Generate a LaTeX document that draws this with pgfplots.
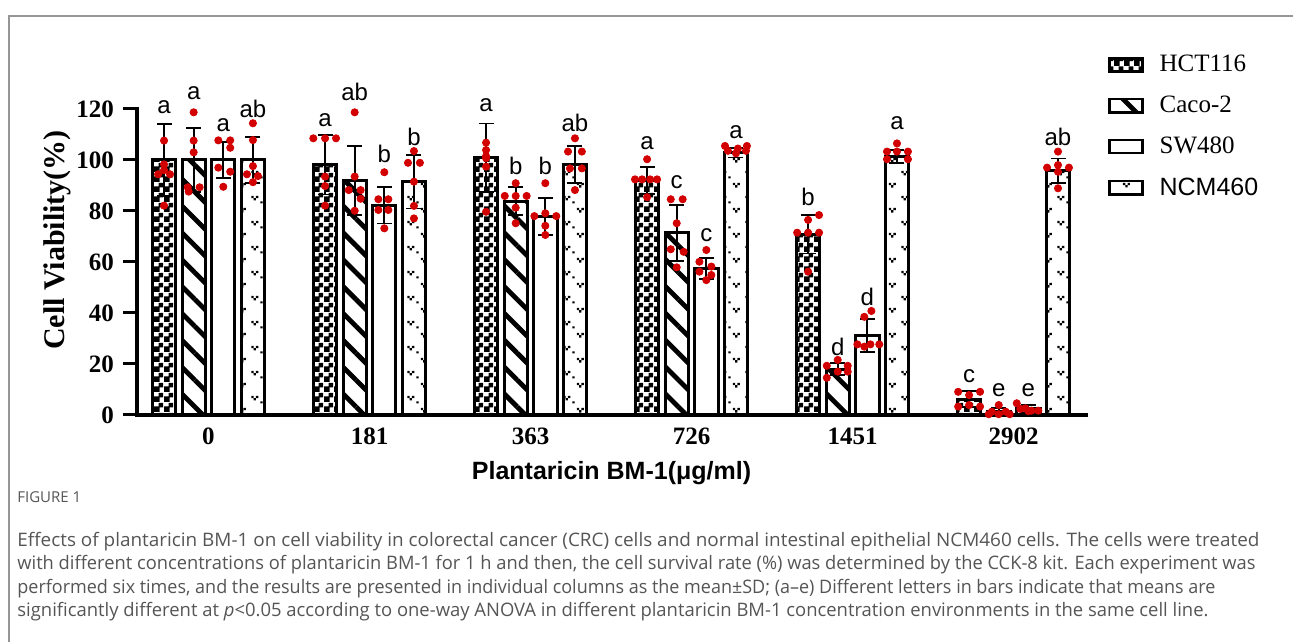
\documentclass[border=0pt]{standalone}
\usepackage{pgfplots}
\usepackage{graphicx}
\pgfplotsset{compat=1.18}
\usetikzlibrary{patterns,patterns.meta}
\usepackage{fontspec}
\setmainfont{Liberation Serif}
\newfontfamily\arial{Liberation Sans}
\newfontfamily\capfont{Open Sans}
\definecolor{dotred}{RGB}{210,0,0}
\definecolor{capgray}{RGB}{85,85,85}
\definecolor{framegray}{RGB}{150,150,150}
\tikzset{letter/.style={font=\arial\fontsize{12}{14}\selectfont, inner sep=0pt}}

\pgfdeclarepattern{
  name=mychecker,
  bottom left={\pgfpoint{0pt}{0pt}},
  top right={\pgfpoint{4.8pt}{4.8pt}},
  tile size={\pgfpoint{4.8pt}{4.8pt}},
  code={
    \pgfpathrectangle{\pgfpoint{0pt}{0pt}}{\pgfpoint{2.9pt}{2.9pt}}
    \pgfpathrectangle{\pgfpoint{2.4pt}{2.4pt}}{\pgfpoint{2.4pt}{2.4pt}}
    \pgfusepath{fill}
  }
}
\pgfdeclarepattern{
  name=myvdots,
  bottom left={\pgfpoint{0pt}{0pt}},
  top right={\pgfpoint{13pt}{12.5pt}},
  tile size={\pgfpoint{13pt}{12.5pt}},
  code={
    \pgfpathrectangle{\pgfpoint{2.5pt}{3.5pt}}{\pgfpoint{1.2pt}{1.2pt}}
    \pgfpathrectangle{\pgfpoint{4.9pt}{3.5pt}}{\pgfpoint{1.2pt}{1.2pt}}
    \pgfpathrectangle{\pgfpoint{3.7pt}{2.3pt}}{\pgfpoint{1.2pt}{1.2pt}}
    \pgfpathrectangle{\pgfpoint{9pt}{9.75pt}}{\pgfpoint{1.2pt}{1.2pt}}
    \pgfpathrectangle{\pgfpoint{11.4pt}{9.75pt}}{\pgfpoint{1.2pt}{1.2pt}}
    \pgfpathrectangle{\pgfpoint{10.2pt}{8.55pt}}{\pgfpoint{1.2pt}{1.2pt}}
    \pgfpathrectangle{\pgfpoint{0.2pt}{7pt}}{\pgfpoint{1.1pt}{1.1pt}}
    \pgfusepath{fill}
  }
}

\begin{document}
\begin{tikzpicture}
\path[use as bounding box] (0,0) rectangle (646.5pt,321pt);
\draw[framegray, line width=0.8pt] (4.5pt,0) -- (4.5pt,313pt) -- (646.5pt,313pt);

\begin{axis}[
  at={(68.5pt,113.5pt)}, anchor=south west,
  scale only axis, width=474.5pt, height=153pt,
  xmin=-0.444, xmax=5.45, ymin=0, ymax=120,
  axis x line*=bottom, axis y line*=left,
  axis line style={line width=2pt, -, line cap=rect},
  ytick={0,20,...,120},
  xtick={0,...,5}, xticklabels={0,181,363,726,1451,2902},
  x tick style={draw=none},
  y tick style={line width=1.5pt, black},
  tick align=outside, major tick length=7pt,
  /pgf/number format/assume math mode=true,
  ticklabel style={font=\fontsize{12.5}{14}\selectfont\bfseries},
  yticklabel style={xshift=-1pt},
  xticklabel style={yshift=4pt},
  clip=false,
  xlabel={Plantaricin BM-1(μg/ml)},
  xlabel style={font=\arial\bfseries\fontsize{12.5}{15}\selectfont, at={(axis description cs:0.5,-0.19)}, anchor=center},
  ylabel={Cell Viability(\%)},
  ylabel style={font=\bfseries\fontsize{15}{17}\selectfont, at={(axis description cs:-0.084,0.572)}, anchor=center, rotate=0},
  legend style={at={(1.023,1.19)}, anchor=north west, draw=none, fill=none, inner sep=0pt,
    row sep=6.6pt, font=\fontsize{12.5}{15}\selectfont, cells={anchor=west},
    /tikz/every odd column/.append style={column sep=6pt}},
  legend image code/.code={\draw[#1, line width=1.2pt] (0pt,-3.3pt) rectangle (16.5pt,3.3pt);},
  error bars/y dir=both, error bars/y explicit,
  error bars/error bar style={line width=0.9pt, black, solid},
  error bars/error mark options={rotate=90, mark size=3.75pt, line width=0.9pt, black},
]
\addplot[ybar, bar width=0.145, bar shift=0pt, draw=black, line width=1.5pt, pattern=mychecker, pattern color=black]
 coordinates {(-0.276,100)+-(0,14) (0.724,98.2)+-(0,11.7) (1.724,100.8)+-(0,13.5) (2.724,91.9)+-(0,5.2) (3.724,70.9)+-(0,7.6) (4.724,6.2)+-(0,3.1)};
\addplot[ybar, bar width=0.145, bar shift=0pt, draw=black, line width=1.5pt, pattern={Lines[angle=-45,distance=9.5pt,line width=2.4pt]}, pattern color=black]
 coordinates {(-0.092,100)+-(0,12.5) (0.908,91.9)+-(0,13.5) (1.908,83.9)+-(0,5.4) (2.908,71.4)+-(0,11) (3.908,18)+-(0,2.4) (4.908,1.3)+-(0,1.3)};
\addplot[ybar, bar width=0.145, bar shift=0pt, draw=black, line width=1.5pt, fill=white]
 coordinates {(0.092,100)+-(0,7) (1.092,82.3)+-(0,7.2) (2.092,77.8)+-(0,7.2) (3.092,57.5)+-(0,4.2) (4.092,31.3)+-(0,6.5) (5.092,2.4)+-(0,1.5)};
\addplot[ybar, bar width=0.145, bar shift=0pt, draw=black, line width=1.5pt, pattern=myvdots, pattern color=black]
 coordinates {(0.276,100)+-(0,9) (1.276,91.5)+-(0,10.5) (2.276,98.3)+-(0,7.3) (3.276,102.8)+-(0,1.8) (4.276,101.4)+-(0,2.5) (5.276,95.8)+-(0,4.8)};
\legend{HCT116, Caco-2, SW480, {\arial NCM460}}

% individual replicate points
\addplot[only marks, mark=*, mark size=1.8pt, color=dotred, forget plot, error bars/y dir=none] coordinates {
 (-0.276,107.6) (-0.276,98.3) (-0.313,94.4) (-0.239,94.4) (-0.276,82.1) (-0.276,96)
 (0.651,108.5) (0.724,108.5) (0.792,108.5) (0.724,93.5) (0.724,89.8) (0.724,82.1)
 (1.724,106.8) (1.724,103.9) (1.724,100.7) (1.724,97.4) (1.724,79.7) (1.724,101.5)
 (2.724,100.3) (2.649,92.4) (2.693,92.4) (2.743,92.4) (2.786,92.4) (2.724,85.4)
 (3.792,78.4) (3.724,76.5) (3.656,71.5) (3.724,71.5) (3.792,71.5) (3.724,56.2)
 (4.656,9.1) (4.792,9.1) (4.724,7.8) (4.724,3.9) (4.656,3.3) (4.792,3.3)
 (-0.092,118.7) (-0.092,107.6) (-0.092,103) (-0.129,89.3) (-0.055,89.3) (-0.123,87.6)
 (0.908,118.7) (0.908,93.5) (0.871,88.2) (0.945,88.2) (0.945,84.8) (0.908,80.1)
 (1.908,90.9) (1.840,85.9) (1.908,85.9) (1.976,85.9) (1.908,81.3) (1.908,75.2)
 (2.871,84.6) (2.945,84.6) (2.908,75.2) (2.871,65) (2.951,64) (2.908,57.9)
 (3.908,21.6) (3.840,19.3) (3.970,19.3) (3.908,17) (3.970,17) (3.840,14.6)
 (4.908,3.9) (4.865,1.3) (4.951,1.3) (4.846,0.3) (4.908,0.3) (4.976,0.3)
 (0.061,107.7) (0.135,107.7) (0.135,104.8) (0.061,97) (0.135,95.4) (0.092,89.5)
 (1.092,95.2) (1.055,84.6) (1.117,84.6) (1.055,80.4) (1.117,80.4) (1.092,73.2)
 (2.092,90.9) (2.024,78) (2.160,78) (2.092,79.1) (2.092,74.2) (2.092,70.6)
 (3.092,64.7) (3.049,60.1) (3.123,58.2) (3.049,56.2) (3.123,54.9) (3.092,52.9)
 (4.117,40.8) (4.073,38.5) (4.030,27.7) (4.111,27.7) (4.166,27.7) (4.073,26.8)
 (5.020,4.6) (5.073,2.6) (5.111,1.7) (5.154,1.7) (5.042,2.4) (5.092,1.5)
 (0.276,114.4) (0.276,107.8) (0.239,94.4) (0.307,93.7) (0.276,91.3) (0.276,97.6)
 (1.276,103.5) (1.239,98.9) (1.313,98.9) (1.276,91.5) (1.276,82) (1.276,77.1)
 (2.276,108.5) (2.233,103.3) (2.319,103.3) (2.245,96.7) (2.319,96.7) (2.276,88.2)
 (3.208,105.5) (3.344,105.5) (3.288,104.5) (3.226,103.6) (3.338,103.6) (3.276,102.6)
 (4.276,106.5) (4.214,103.3) (4.276,103.3) (4.344,103.3) (4.214,100.3) (4.344,100.3)
 (5.276,103.3) (5.276,98) (5.208,97) (5.344,97) (5.276,95.4) (5.276,88.9)
};

% significance letters
\node[letter] at (axis cs:-0.276,120.9) {a};
\node[letter] at (axis cs:-0.092,126.3) {a};
\node[letter] at (axis cs:0.092,113.7) {a};
\node[letter] at (axis cs:0.276,120) {ab};
\node[letter] at (axis cs:0.724,115.7) {a};
\node[letter] at (axis cs:0.908,126.5) {ab};
\node[letter] at (axis cs:1.092,102.4) {b};
\node[letter] at (axis cs:1.276,109.1) {b};
\node[letter] at (axis cs:1.724,121.6) {a};
\node[letter] at (axis cs:1.908,97.6) {b};
\node[letter] at (axis cs:2.092,97.6) {b};
\node[letter] at (axis cs:2.276,114.4) {ab};
\node[letter] at (axis cs:2.724,106.5) {a};
\node[letter] at (axis cs:2.908,91.5) {c};
\node[letter] at (axis cs:3.092,70.6) {c};
\node[letter] at (axis cs:3.276,111.1) {a};
\node[letter] at (axis cs:3.724,85.6) {b};
\node[letter] at (axis cs:3.908,26.8) {d};
\node[letter] at (axis cs:4.092,46.4) {d};
\node[letter] at (axis cs:4.276,114.4) {a};
\node[letter] at (axis cs:4.724,15.3) {c};
\node[letter] at (axis cs:4.908,9.8) {e};
\node[letter] at (axis cs:5.092,9.8) {e};
\node[letter] at (axis cs:5.276,109.1) {ab};
\end{axis}

\node[anchor=base west, inner sep=0pt, text=capgray, font=\capfont\fontsize{7.5}{9}\selectfont] at (8.5pt,70pt) {FIGURE 1};
\begin{scope}[every node/.style={anchor=base west, inner sep=0pt, text=capgray, font=\capfont\fontsize{9.3}{11}\selectfont}]
\node at (8.5pt,48pt) {\resizebox{621pt}{\height}{Effects of plantaricin BM-1 on cell viability in colorectal cancer (CRC) cells and normal intestinal epithelial NCM460 cells. The cells were treated}};
\node at (8.5pt,36.5pt) {\resizebox{619pt}{\height}{with different concentrations of plantaricin BM-1 for 1 h and then, the cell survival rate (\%) was determined by the CCK-8 kit. Each experiment was}};
\node at (8.5pt,24.5pt) {\resizebox{599pt}{\height}{performed six times, and the results are presented in individual columns as the mean±SD; (a–e) Different letters in bars indicate that means are}};
\node at (8.5pt,13pt) {\resizebox{595.5pt}{\height}{significantly different at \textit{p}<0.05 according to one-way ANOVA in different plantaricin BM-1 concentration environments in the same cell line.}};
\end{scope}
\end{tikzpicture}
\end{document}
